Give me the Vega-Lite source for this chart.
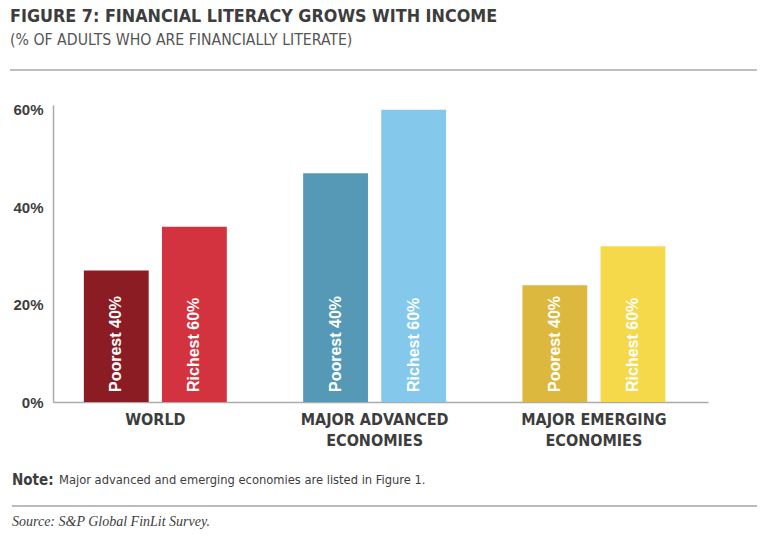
{
  "$schema": "https://vega.github.io/schema/vega-lite/v6.json",
  "width": 655,
  "height": 297,
  "autosize": {"type": "none"},
  "padding": {"left": 53, "top": 105, "right": 60, "bottom": 136},
  "background": "white",
  "title": {
    "text": "FIGURE 7: FINANCIAL LITERACY GROWS WITH INCOME",
    "subtitle": "(% OF ADULTS WHO ARE FINANCIALLY LITERATE)",
    "anchor": "start",
    "frame": "group",
    "dx": -43,
    "offset": 22,
    "font": "DejaVu Sans Condensed",
    "fontSize": 17.8,
    "fontWeight": "bold",
    "color": "#3d3d3d",
    "subtitleFont": "DejaVu Sans Condensed",
    "subtitleFontSize": 15.7,
    "subtitleColor": "#555555",
    "subtitlePadding": 7
  },
  "config": {"view": {"stroke": null}},
  "layer": [
    {
      "data": {
        "values": [
          {"region": "WORLD", "group": "Poorest 40%", "bar": "World poorest", "pct": 27},
          {"region": "WORLD", "group": "Richest 60%", "bar": "World richest", "pct": 36},
          {"region": "MAJOR ADVANCED ECONOMIES", "group": "Poorest 40%", "bar": "Advanced poorest", "pct": 47},
          {"region": "MAJOR ADVANCED ECONOMIES", "group": "Richest 60%", "bar": "Advanced richest", "pct": 60},
          {"region": "MAJOR EMERGING ECONOMIES", "group": "Poorest 40%", "bar": "Emerging poorest", "pct": 24},
          {"region": "MAJOR EMERGING ECONOMIES", "group": "Richest 60%", "bar": "Emerging richest", "pct": 32}
        ]
      },
      "encoding": {
        "x": {
          "field": "region",
          "type": "nominal",
          "sort": null,
          "scale": {"paddingInner": 0.348, "paddingOuter": 0.1675, "align": 0.42},
          "axis": {
            "title": null,
            "labelAngle": 0,
            "ticks": false,
            "domainColor": "#aaaaaa",
            "domainWidth": 1.5,
            "labelFont": "DejaVu Sans Condensed",
            "labelFontSize": 16,
            "labelFontWeight": "bold",
            "labelColor": "#3d3d3d",
            "labelPadding": 9,
            "labelLineHeight": 21,
            "labelBaseline": "top",
            "labelExpr": "split(replace(datum.value, ' ECONOMIES', '|ECONOMIES'), '|')"
          }
        },
        "xOffset": {
          "field": "group",
          "type": "nominal",
          "sort": ["Poorest 40%", "Richest 60%"],
          "scale": {"paddingInner": 0.17, "paddingOuter": 0}
        }
      },
      "layer": [
        {
          "mark": {"type": "bar"},
          "encoding": {
            "y": {
              "field": "pct",
              "type": "quantitative",
              "scale": {"domain": [0, 61], "nice": false},
              "axis": {
                "title": null,
                "values": [0, 20, 40, 60],
                "grid": false,
                "ticks": false,
                "domainColor": "#aaaaaa",
                "domainWidth": 1.5,
                "labelFont": "Liberation Sans",
                "labelFontSize": 15,
                "labelFontWeight": "bold",
                "labelColor": "#3d3d3d",
                "labelPadding": 10,
                "labelExpr": "datum.value + '%'"
              }
            },
            "color": {
              "field": "bar",
              "type": "nominal",
              "legend": null,
              "scale": {
                "domain": ["World poorest", "World richest", "Advanced poorest", "Advanced richest", "Emerging poorest", "Emerging richest"],
                "range": ["#8c1c24", "#d2333f", "#5699b6", "#84c9ec", "#ddb83e", "#f6d84b"]
              }
            }
          }
        },
        {
          "mark": {
            "type": "text",
            "angle": 270,
            "align": "left",
            "baseline": "middle",
            "dx": 10,
            "font": "Liberation Sans",
            "fontSize": 16,
            "fontWeight": "bold",
            "color": "white"
          },
          "encoding": {
            "y": {"datum": 0, "type": "quantitative"},
            "text": {"field": "group"}
          }
        }
      ]
    },
    {
      "data": {"values": [{}]},
      "layer": [
        {
          "mark": {"type": "rule", "color": "#aaaaaa", "strokeWidth": 1.5},
          "encoding": {"x": {"value": -43}, "x2": {"value": 704}, "y": {"value": -35}}
        },
        {
          "mark": {"type": "rule", "color": "#777777", "strokeWidth": 1},
          "encoding": {"x": {"value": -41}, "x2": {"value": 704}, "y": {"value": 401}}
        },
        {
          "mark": {"type": "text", "align": "left", "baseline": "middle", "font": "DejaVu Sans Condensed", "fontSize": 15, "fontWeight": "bold", "color": "#3d3d3d"},
          "encoding": {"x": {"value": -41}, "y": {"value": 375}, "text": {"value": "Note:"}}
        },
        {
          "mark": {"type": "text", "align": "left", "baseline": "middle", "font": "DejaVu Sans Condensed", "fontSize": 12.8, "color": "#3d3d3d"},
          "encoding": {"x": {"value": 6}, "y": {"value": 375}, "text": {"value": "Major advanced and emerging economies are listed in Figure 1."}}
        },
        {
          "mark": {"type": "text", "align": "left", "baseline": "middle", "font": "Liberation Serif", "fontSize": 14, "fontStyle": "italic", "color": "#3d3d3d"},
          "encoding": {"x": {"value": -41}, "y": {"value": 417}, "text": {"value": "Source: S&P Global FinLit Survey."}}
        }
      ]
    }
  ]
}
